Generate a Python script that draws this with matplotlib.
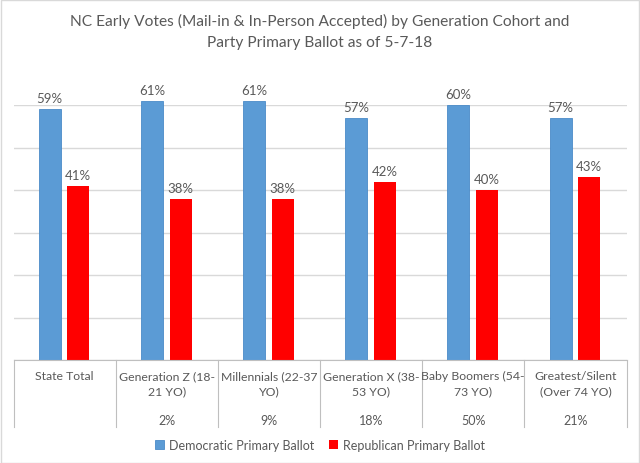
import matplotlib.pyplot as plt
import numpy as np
from matplotlib.patches import Rectangle

# data
categories = ["State Total", "Generation Z (18-\n21 YO)", "Millennials (22-37\nYO)",
              "Generation X (38-\n53 YO)", "Baby Boomers (54-\n73 YO)", "Greatest/Silent\n(Over 74 YO)"]
cohort_share = ["", "2%", "9%", "18%", "50%", "21%"]
dem = [0.59, 0.61, 0.61, 0.57, 0.60, 0.57]
rep = [0.41, 0.38, 0.38, 0.42, 0.40, 0.43]
series_names = ["Democratic Primary Ballot", "Republican Primary Ballot"]

BLUE = "#5B9BD5"
RED = "#FF0000"
TXT = "#595959"
GRID = "#D9D9D9"

plt.rcParams['font.family'] = ['Lato', 'DejaVu Sans']

W, H = 640, 464
fig = plt.figure(figsize=(W / 100, H / 100), dpi=100)

# plot area in pixels
left, right, top, base = 13.5, 626.5, 106, 361
ax = fig.add_axes([left / W, (H - base) / H, (right - left) / W, (base - top) / H])

x = np.arange(len(categories))
bw = 0.215
b1 = ax.bar(x - 0.145, dem, bw, color=BLUE, edgecolor="#4A8BC8", linewidth=0.6,
            clip_on=False, zorder=3, label=series_names[0])
b2 = ax.bar(x + 0.135, rep, bw, color=RED, clip_on=False, zorder=3, label=series_names[1])

for bars, vals in ((b1, dem), (b2, rep)):
    for r, v in zip(bars, vals):
        ax.annotate(f"{v * 100:.0f}%", (r.get_x() + r.get_width() / 2, v),
                    xytext=(0, 3.5), textcoords="offset points", ha="center", va="bottom",
                    fontsize=9.5, color=TXT, annotation_clip=False)

ax.set_xlim(-0.5, len(categories) - 0.5)
ax.set_ylim(0, 0.6)
ax.set_yticks(np.arange(0, 0.61, 0.1))
ax.yaxis.grid(True, color=GRID, linewidth=1)
ax.set_axisbelow(True)
ax.tick_params(left=False, labelleft=False, bottom=False, labelbottom=False)
for s in ("left", "right", "top"):
    ax.spines[s].set_visible(False)
ax.spines["bottom"].set_color("#BFBFBF")
ax.spines["bottom"].set_zorder(4)

# category table below the axis
def ay(py):
    return (base - py) / (base - top)

for xv in np.arange(-0.5, len(categories), 1.0):
    ax.plot([xv, xv], [0, ay(428)], transform=ax.get_xaxis_transform(),
            color="#BFBFBF", linewidth=0.8, clip_on=False)

for i, (lab, sh) in enumerate(zip(categories, cohort_share)):
    ax.text(i, ay(371), lab, transform=ax.get_xaxis_transform(), ha="center", va="top",
            fontsize=8.8, color=TXT, linespacing=1.45)
    if sh:
        ax.text(i, ay(421), sh, transform=ax.get_xaxis_transform(), ha="center",
                va="center", fontsize=9, color=TXT)

fig.text(0.5, 1 - 21 / H, "NC Early Votes (Mail-in & In-Person Accepted) by Generation Cohort and",
         ha="center", va="center", fontsize=11.2, color=TXT)
fig.text(0.5, 1 - 43 / H, "Party Primary Ballot as of 5-7-18",
         ha="center", va="center", fontsize=11.2, color=TXT)

fig.legend(loc="center", bbox_to_anchor=(0.5, (H - 446) / H), ncol=2, frameon=False,
           fontsize=9, labelcolor=TXT, handlelength=0.7, handleheight=0.7,
           handletextpad=0.4, columnspacing=1.2)

# chart border
fig.patches.append(Rectangle((0.5 / W, 0.5 / H), 1 - 1.5 / W, 1 - 1.5 / H,
                             transform=fig.transFigure, fill=False,
                             edgecolor=GRID, linewidth=1))

fig.savefig("out.png", dpi=100)
